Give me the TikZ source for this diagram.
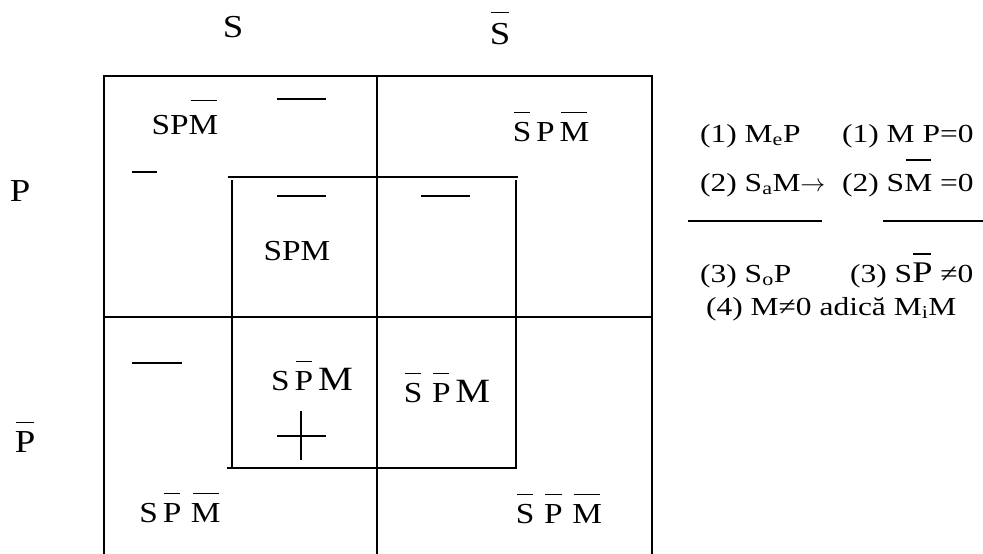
\documentclass[tikz,border=0pt]{standalone}
\usepackage{fontspec}
\setmainfont{Liberation Serif}[FakeStretch=1.15]
\newfontfamily\rtfont{Liberation Serif}[FakeStretch=1.21]
\newsavebox\ovlbox
\newcommand{\ovl}[2][0.3em]{\leavevmode\sbox\ovlbox{#2}\rlap{\raisebox{\dimexpr\ht\ovlbox+#1\relax}{\hbox to\wd\ovlbox{\hss\rule{0.88\wd\ovlbox}{1.5pt}\hss}}}\usebox\ovlbox}
\newcommand{\bigM}{{\fontsize{34}{40}\selectfont M}}
\begin{document}
\begin{tikzpicture}[x=1pt,y=-1pt,
  ln/.style={line width=2.2pt},
  dsh/.style={line width=2pt},
  lbl/.style={inner sep=0pt, anchor=base, font=\fontsize{29}{34}\selectfont},
  hdr/.style={inner sep=0pt, anchor=base, font=\fontsize{32}{38}\selectfont},
  rt/.style={inner sep=0pt, anchor=base west, font=\rtfont\fontsize{26}{30}\selectfont}]
\useasboundingbox (0,0) rectangle (983,554);
% outer grid
\draw[ln] (104,554) -- (104,76) -- (652,76) -- (652,554);
\draw[ln] (377,76) -- (377,554);
\draw[ln] (104,317) -- (652,317);
% inner square (M)
\draw[ln] (228,177) -- (518,177);
\draw[ln] (232,180) -- (232,468);
\draw[ln] (516,180) -- (516,468);
\draw[ln] (227,468) -- (517,468);
% dashes
\draw[dsh] (277,99) -- (326,99);
\draw[dsh] (132,172) -- (157,172);
\draw[dsh] (277,196) -- (326,196);
\draw[dsh] (421,196) -- (470,196);
\draw[dsh] (132,363) -- (182,363);
\draw[dsh] (277,436) -- (326,436);
\draw[dsh] (301,411) -- (301,460);
% separators
\draw[dsh] (688,221) -- (822,221);
\draw[dsh] (883,221) -- (983,221);
% headers
\node[hdr] (hS) at (233,37) {S};
\node[hdr] (hSn) at (500,44) {\ovl{S}};
\node[hdr] (hP) at (20,201) {P};
\node[hdr] (hPn) at (25,452) {\ovl[0.25em]{P}};
% cells
\node[lbl] (c1) at (185,134) {SP\ovl[0.48em]{M}};
\node[lbl] (c2) at (551,141) {\ovl{S}\,P\,\ovl{M}};
\node[lbl] (c3) at (297,260) {SPM};
\node[lbl] (c4) at (312,390) {S\,\ovl{P}\,\bigM};
\node[lbl] (c5) at (447,402) {\ovl{S}\,\,\ovl{P}\,\bigM};
\node[lbl] (c6) at (180,522) {S\,\ovl{P}\,\,\ovl{M}};
\node[lbl] (c7) at (559,523) {\ovl{S}\,\,\ovl{P}\,\,\ovl{M}};
% right text
\node[rt] (r1a) at (700,142) {(1) M\textsubscript{e}P};
\node[rt] (r1b) at (842,142) {(1) M P=0};
\node[rt] (r2a) at (700,191) {(2) S\textsubscript{a}M$\rightarrow$};
\node[rt] (r2b) at (842,191) {(2) S\ovl[0.5em]{M} =0};
\node[rt] (r3a) at (700,282) {(3) S\textsubscript{o}P};
\node[rt] (r3b) at (850,282) {(3) S{\fontsize{30}{34}\selectfont\ovl[0.25em]{P}} ≠0};
\node[rt] (r4) at (706,315) {(4) M≠0 adică M\textsubscript{i}M};
\end{tikzpicture}
\end{document}
